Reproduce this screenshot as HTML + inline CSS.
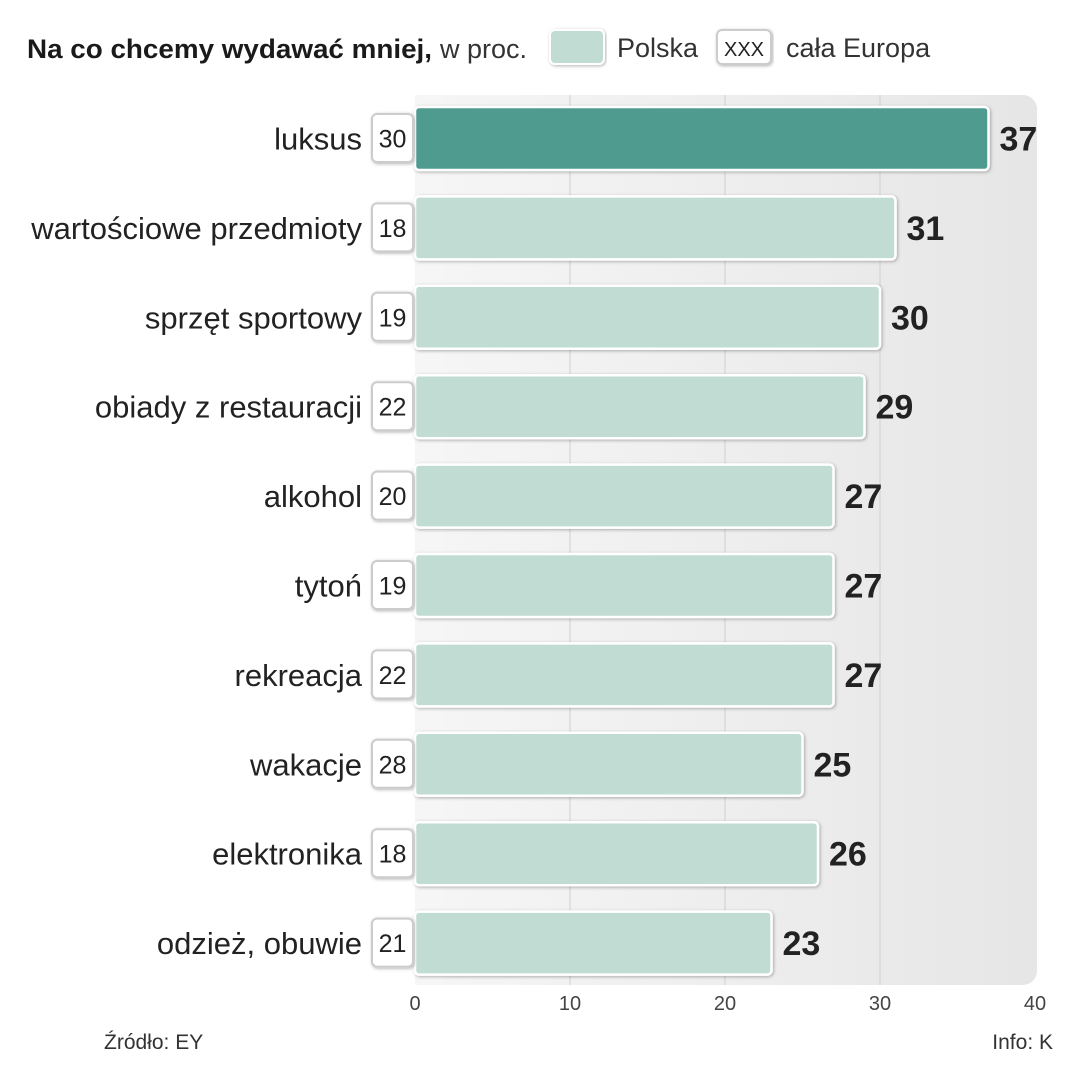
<!DOCTYPE html>
<html><head><meta charset="utf-8"><style>
body{margin:0;background:#fff;width:1079px;height:1080px;overflow:hidden;font-family:"Liberation Sans",sans-serif}
</style></head><body>
<svg id="c" width="1079" height="1080" xmlns="http://www.w3.org/2000/svg">
<defs>
<linearGradient id="bg" x1="0" x2="1" y1="0" y2="0"><stop offset="0" stop-color="#f6f6f6"/><stop offset="1" stop-color="#e6e6e6"/></linearGradient>
<filter id="sh" x="-5%" y="-20%" width="110%" height="140%"><feDropShadow dx="1" dy="1" stdDeviation="1.5" flood-color="#000" flood-opacity="0.3"/></filter>
</defs>
<g>
<text x="27" y="58" font-size="27" font-weight="bold" fill="#1a1a1a" textLength="405" lengthAdjust="spacingAndGlyphs">Na co chcemy wydawać mniej,</text>
<text x="440" y="58" font-size="27" fill="#333">w proc.</text>
</g>
<g>
<rect x="550" y="30" width="54" height="34" rx="5" fill="#c0dcd3" stroke="#fff" stroke-width="2" filter="url(#sh)"/>
<text x="617" y="57" font-size="27" fill="#333">Polska</text>
<rect x="717" y="30" width="54" height="34" rx="5" fill="#fff" stroke="#ccc" stroke-width="2" filter="url(#sh)"/>
<text x="744" y="56" font-size="20" fill="#222" text-anchor="middle">XXX</text>
<text x="786" y="57" font-size="27" fill="#333">cała Europa</text>
</g>
<rect x="415" y="95" width="622" height="890" rx="14" fill="url(#bg)"/>
<rect x="415" y="95" width="30" height="890" fill="#f6f6f6"/>
<g id="grid"></g><g id="bars"></g><g id="ticks"></g>
<text x="104" y="1049" font-size="21" fill="#333">Źródło: EY</text>
<text x="1053" y="1049" font-size="21" fill="#333" text-anchor="end">Info: K</text>
</svg>
<script>
const categories=["luksus","wartościowe przedmioty","sprzęt sportowy","obiady z restauracji","alkohol","tytoń","rekreacja","wakacje","elektronika","odzież, obuwie"];
const polska=[37,31,30,29,27,27,27,25,26,23];
const europa=[30,18,19,22,20,19,22,28,18,21];
const ticks=[0,10,20,30,40];
const NS="http://www.w3.org/2000/svg";
const x0=415,x1=1035,xmax=40;
const X=v=>x0+(x1-x0)*v/xmax;
const rowTop=107,rowStep=89.4,barH=63;
const Y=i=>rowTop+i*rowStep;
function mk(t,a,p){const e=document.createElementNS(NS,t);for(const k in a)e.setAttribute(k,a[k]);p.appendChild(e);return e;}
const grid=document.getElementById('grid'),bars=document.getElementById('bars'),tg=document.getElementById('ticks');
ticks.forEach(t=>{
 if(t>0&&t<xmax){const l=mk('line',{x1:X(t),x2:X(t),y1:95,y2:985,stroke:'#d0d0d0','stroke-width':1},grid);
 
 }
 const tx=mk('text',{x:X(t),y:1010,'font-size':20,fill:'#444','text-anchor':'middle'},tg);tx.textContent=t;
 
 
});
categories.forEach((c,i)=>{
 const y=Y(i);
 const g=mk('g',{},bars);
 
 
 const r=mk('rect',{x:x0,y:y,width:X(polska[i])-x0,height:barH,rx:4,fill:i===0?'#4f9b8f':'#c0dcd3',stroke:'#fff','stroke-width':2.5,filter:'url(#sh)'},g);
 
 
 const v=mk('text',{x:X(polska[i])+11,y:y+barH/2+12,'font-size':34,'font-weight':'bold',fill:'#222'},g);v.textContent=polska[i];
 
 
 const b=mk('rect',{x:372,y:y+7,width:41,height:48,rx:5,fill:'#fff',stroke:'#ccc','stroke-width':2,filter:'url(#sh)'},g);
 
 
 const et=mk('text',{x:392.5,y:y+barH/2+9,'font-size':25,fill:'#222','text-anchor':'middle'},g);et.textContent=europa[i];
 
 
 const cl=mk('text',{x:362,y:y+barH/2+11,'font-size':31,fill:'#222','text-anchor':'end'},g);cl.textContent=c;
 
 
});
</script>
</body></html>
